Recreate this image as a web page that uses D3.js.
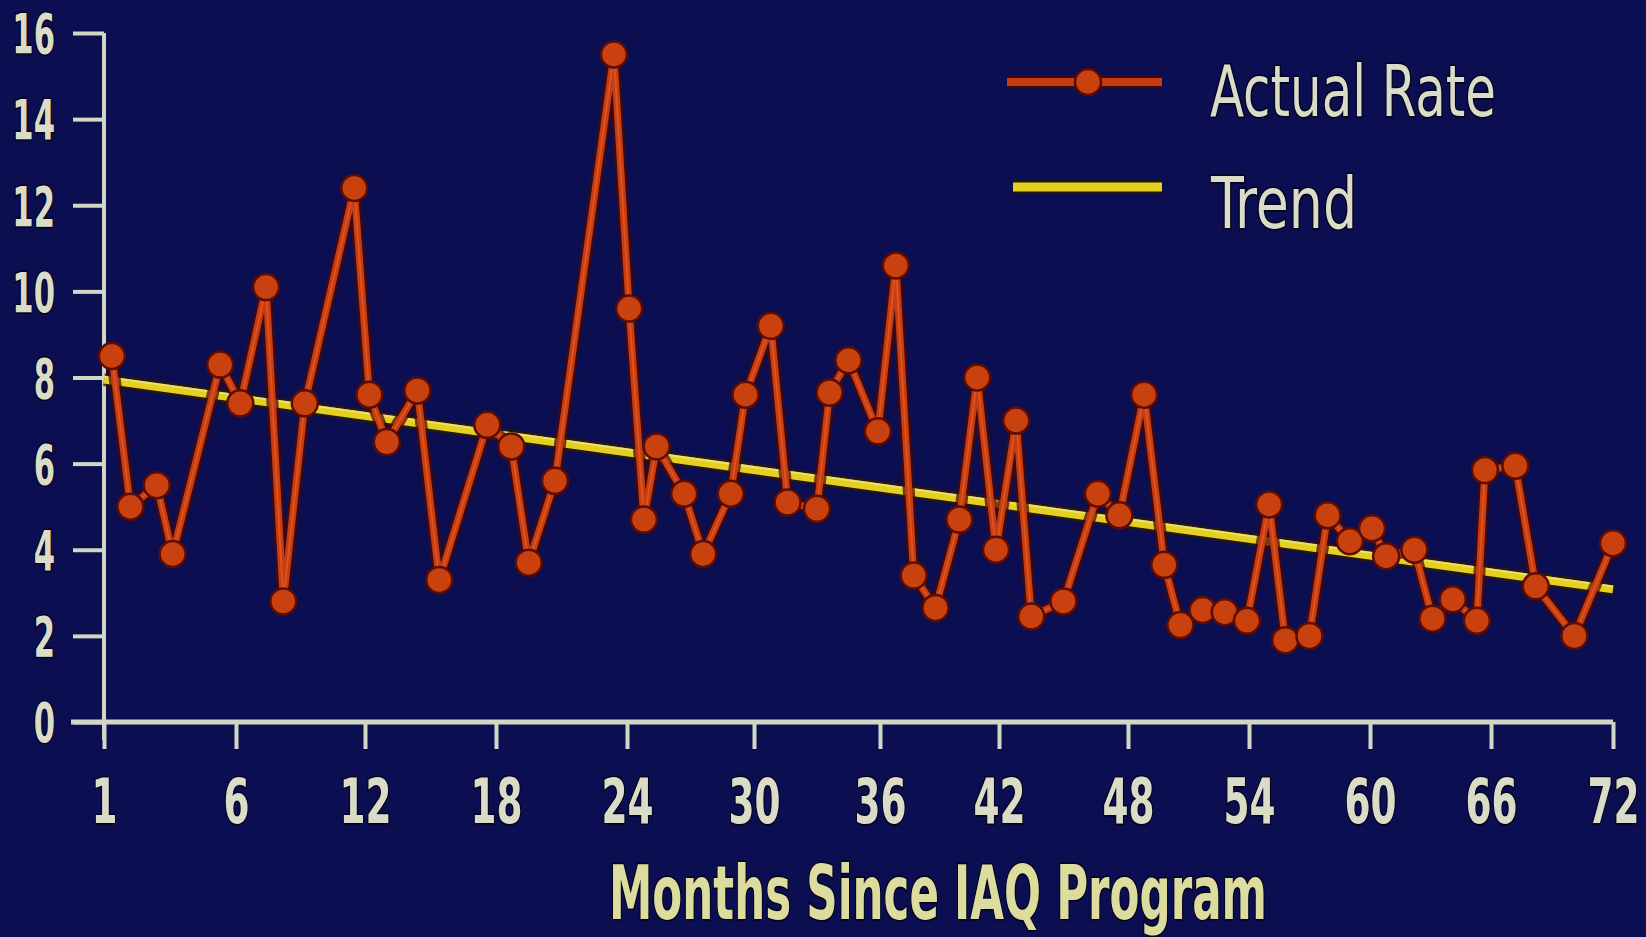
<!DOCTYPE html>
<html>
<head>
<meta charset="utf-8">
<script src="https://cdn.jsdelivr.net/npm/d3@7/dist/d3.min.js"></script>
<style>
  html, body { margin: 0; padding: 0; background: #0b0e50; }
  svg { display: block; }
</style>
</head>
<body>
<svg id="chart" width="1646" height="937"></svg>
<script>
// ---------------- DATA ----------------
// Month (as placed on the hand-drawn axis) and rate for each plotted point
const months = [1.3, 2.0, 3.0, 3.6, 5.4, 6.2, 7.4, 8.2, 9.2, 11.5, 12.2, 13.0, 14.4, 15.4, 17.6, 18.7, 19.5, 20.7,
  23.4, 24.1, 24.8, 25.4, 26.7, 27.6, 28.9, 29.6, 30.8, 31.6, 33.0, 33.6, 34.5, 35.9, 36.8, 37.7, 38.8, 40.0,
  40.9, 41.85, 42.8, 43.5, 45.0, 46.6, 47.6, 48.8, 49.8, 50.6, 51.7, 52.8, 53.9, 55.0, 55.8, 57.0, 57.9, 59.0,
  60.1, 60.8, 62.2, 63.1, 64.1, 65.3, 65.7, 67.2, 68.2, 70.1, 72.0];
const actualRate = [8.5, 5.0, 5.5, 3.9, 8.3, 7.4, 10.1, 2.8, 7.4, 12.4, 7.6, 6.5, 7.7, 3.3, 6.9, 6.4, 3.7, 5.6,
  15.5, 9.6, 4.7, 6.4, 5.3, 3.9, 5.3, 7.6, 9.2, 5.1, 4.95, 7.65, 8.4, 6.75, 10.6, 3.4, 2.65, 4.7,
  8.0, 4.0, 7.0, 2.45, 2.8, 5.3, 4.8, 7.6, 3.65, 2.25, 2.6, 2.55, 2.35, 5.05, 1.9, 2.0, 4.8, 4.2,
  4.5, 3.85, 4.0, 2.4, 2.85, 2.35, 5.85, 5.95, 3.15, 2.0, 4.15];
const trendMonths = [1, 72];
const trendValues = [7.95, 3.08];
const xTickValues = [1, 6, 12, 18, 24, 30, 36, 42, 48, 54, 60, 66, 72];
const yTickValues = [0, 2, 4, 6, 8, 10, 12, 14, 16];
const seriesNames = ["Actual Rate", "Trend"];
const xAxisTitle = "Months Since IAQ Program";

// ---------------- LAYOUT ----------------
const W = 1646, H = 937;
const COL_BG = "#0b0e50";
const COL_AXIS = "#d2d6c4";
const COL_TEXT = "#dadcc8";
const COL_TITLE = "#dcdc9e";
const COL_RED = "#c73c10";
const COL_RED_DARK = "#4a0806";
const COL_YEL = "#e4d020";
const COL_YEL_DARK = "#2a1a06";
// the reference's hand-drawn axis has slightly uneven tick spacing
const xTickPixels = [104, 236, 365, 496, 627, 754, 880, 999, 1128, 1249, 1370, 1491, 1613];

const svg = d3.select("#chart");
svg.append("rect").attr("width", W).attr("height", H).attr("fill", COL_BG);

const x = d3.scaleLinear().domain(xTickValues).range(xTickPixels);
const y = d3.scaleLinear().domain([0, 16]).range([722, 33]);

const FONT = "'Liberation Sans Narrow', 'Arial Narrow', 'DejaVu Sans Condensed', 'Liberation Sans', sans-serif";

// ---------- axes ----------
const Y_SX = 0.62;
const yAxis = d3.axisLeft(y).tickValues(yTickValues).tickSize(31).tickPadding(18).tickSizeOuter(0);
const gy = svg.append("g").attr("transform", `translate(${x(1)},0)`).call(yAxis);
gy.select(".domain").remove();
gy.selectAll(".tick line").attr("stroke", COL_AXIS).attr("stroke-width", 4);
gy.selectAll(".tick text")
  .attr("fill", COL_TEXT).attr("font-family", FONT).attr("font-size", 55).attr("font-weight", "bold")
  .attr("stroke", "#03031c").attr("stroke-width", 3).attr("paint-order", "stroke")
  .attr("dy", "0.36em")
  .attr("x", -49 / Y_SX)
  .attr("transform", `scale(${Y_SX},1)`);

const X_SX = 0.66;
const xAxis = d3.axisBottom(x).tickValues(xTickValues).tickSize(27).tickPadding(29).tickSizeOuter(0);
const gx = svg.append("g").attr("transform", `translate(0,${y(0)})`).call(xAxis);
gx.select(".domain").remove();
gx.selectAll(".tick line").attr("stroke", COL_AXIS).attr("stroke-width", 4);
gx.selectAll(".tick text")
  .attr("fill", COL_TEXT).attr("font-family", FONT).attr("font-size", 63).attr("font-weight", "bold")
  .attr("stroke", "#03031c").attr("stroke-width", 3).attr("paint-order", "stroke")
  .attr("transform", `scale(${X_SX},1)`);

// axis lines (drawn from the scales, extended a little as in the reference)
svg.append("line")
  .attr("x1", x(1)).attr("x2", x(1))
  .attr("y1", y(16)).attr("y2", y(0) + 18)
  .attr("stroke", COL_AXIS).attr("stroke-width", 4);
svg.append("line")
  .attr("x1", x(1) - 33).attr("x2", x(72))
  .attr("y1", y(0)).attr("y2", y(0))
  .attr("stroke", COL_AXIS).attr("stroke-width", 5);

// ---------- trend ----------
const trendData = trendMonths.map((m, i) => ({ m, v: trendValues[i] }));
const trendLine = d3.line().x(d => x(d.m)).y(d => y(d.v));
svg.append("path").datum(trendData).attr("d", trendLine)
  .attr("fill", "none").attr("stroke", COL_YEL_DARK).attr("stroke-width", 13).attr("opacity", 0.8);
svg.append("path").datum(trendData).attr("d", trendLine)
  .attr("fill", "none").attr("stroke", COL_YEL).attr("stroke-width", 8);
svg.append("path").datum(trendData).attr("d", trendLine)
  .attr("fill", "none").attr("stroke", "#f4eca0").attr("stroke-width", 2).attr("opacity", 0.6)
  .attr("transform", "translate(0,-3)");

// ---------- actual rate ----------
const pts = months.map((m, i) => ({ m, v: actualRate[i] }));
const rateLine = d3.line().x(d => x(d.m)).y(d => y(d.v));
svg.append("path").datum(pts).attr("d", rateLine)
  .attr("fill", "none").attr("stroke", COL_RED_DARK).attr("stroke-width", 12)
  .attr("stroke-linejoin", "round").attr("opacity", 0.75);
svg.append("path").datum(pts).attr("d", rateLine)
  .attr("fill", "none").attr("stroke", COL_RED).attr("stroke-width", 7)
  .attr("stroke-linejoin", "round");
svg.append("path").datum(pts).attr("d", rateLine)
  .attr("fill", "none").attr("stroke", "#e8622a").attr("stroke-width", 2)
  .attr("stroke-linejoin", "round").attr("opacity", 0.6);

svg.append("g").selectAll("circle").data(pts).join("circle")
  .attr("cx", d => x(d.m)).attr("cy", d => y(d.v)).attr("r", 13)
  .attr("fill", "#c9410f").attr("stroke", "#5a0c06").attr("stroke-width", 2.5);

// ---------- legend ----------
const lg = svg.append("g");
lg.append("line").attr("x1", 1007).attr("x2", 1162).attr("y1", 82).attr("y2", 82)
  .attr("stroke", COL_RED_DARK).attr("stroke-width", 13).attr("opacity", 0.75);
lg.append("line").attr("x1", 1007).attr("x2", 1162).attr("y1", 82).attr("y2", 82)
  .attr("stroke", COL_RED).attr("stroke-width", 8);
lg.append("circle").attr("cx", 1088).attr("cy", 82).attr("r", 13)
  .attr("fill", "#c9410f").attr("stroke", "#5a0c06").attr("stroke-width", 2.5);
lg.append("line").attr("x1", 1013).attr("x2", 1162).attr("y1", 187).attr("y2", 187)
  .attr("stroke", COL_YEL_DARK).attr("stroke-width", 14).attr("opacity", 0.8);
lg.append("line").attr("x1", 1013).attr("x2", 1162).attr("y1", 187).attr("y2", 187)
  .attr("stroke", COL_YEL).attr("stroke-width", 9);
lg.append("text").attr("x", 1210).attr("y", 116).text(seriesNames[0])
  .attr("fill", COL_TEXT).attr("font-family", FONT).attr("font-size", 72)
  .attr("stroke", "#03031c").attr("stroke-width", 3).attr("paint-order", "stroke")
  .attr("textLength", 286).attr("lengthAdjust", "spacingAndGlyphs");
lg.append("text").attr("x", 1211).attr("y", 228).text(seriesNames[1])
  .attr("fill", COL_TEXT).attr("font-family", FONT).attr("font-size", 72)
  .attr("stroke", "#03031c").attr("stroke-width", 3).attr("paint-order", "stroke")
  .attr("textLength", 146).attr("lengthAdjust", "spacingAndGlyphs");

// ---------- axis title ----------
svg.append("text").attr("x", 609).attr("y", 919).text(xAxisTitle)
  .attr("fill", COL_TITLE).attr("font-family", FONT).attr("font-weight", "bold").attr("font-size", 74)
  .attr("stroke", "#03031c").attr("stroke-width", 3).attr("paint-order", "stroke")
  .attr("textLength", 658).attr("lengthAdjust", "spacingAndGlyphs");
</script>
</body>
</html>
